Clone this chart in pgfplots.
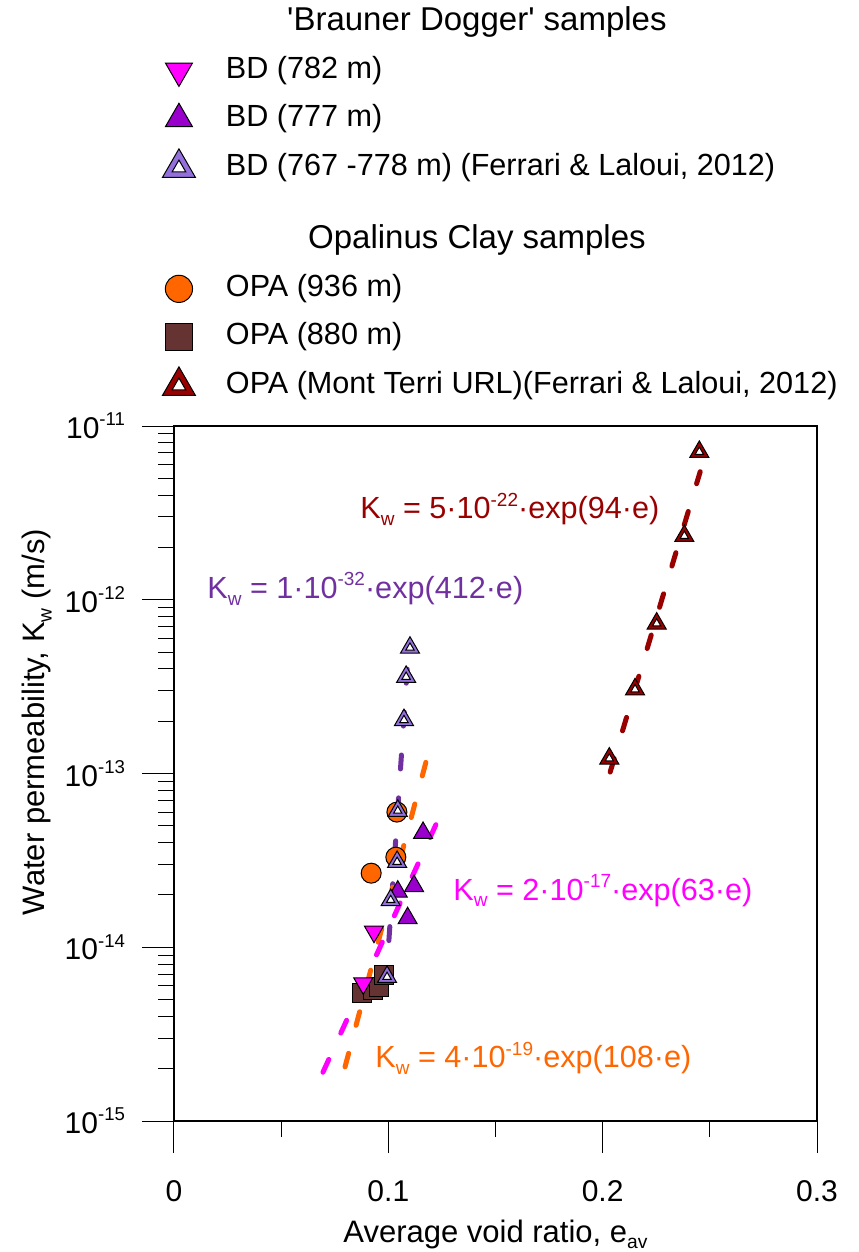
\documentclass[border=0pt]{standalone}
\usepackage{fontspec}
\setmainfont{Liberation Sans}
\usepackage{pgfplots}
\pgfplotsset{compat=1.18}
\definecolor{bdmag}{HTML}{FF00FF}
\definecolor{bdvio}{HTML}{9900CC}
\definecolor{bdlav}{HTML}{9370DB}
\definecolor{opaor}{HTML}{FF6600}
\definecolor{opabr}{HTML}{663333}
\definecolor{opared}{HTML}{990000}
\definecolor{fitpur}{HTML}{7030A0}
\makeatletter
\newcommand\sups[1]{\raisebox{0.42em}{\fontsize{\the\dimexpr 0.62\dimexpr\f@size pt\relax\relax}{1pt}\selectfont #1}}
\newcommand\subs[1]{\raisebox{-0.22em}{\fontsize{\the\dimexpr 0.62\dimexpr\f@size pt\relax\relax}{1pt}\selectfont #1}}
\makeatother
\pgfplotsset{
  fitline/.style={line width=2.5bp, dash pattern=on 7bp off 14.5bp, line cap=round, no marks},
}
\begin{document}
\begin{tikzpicture}
\useasboundingbox (-87bp,-65.5bp) rectangle (342.5bp,560.5bp);
\begin{axis}[
  scale only axis, width=321.5bp, height=347.5bp,
  xmin=0, xmax=0.3, ymode=log, ymin=1e-15, ymax=1e-11,
  xtick={0,0.1,0.2,0.3}, xticklabels={0,0.1,0.2,0.3},
  minor xtick={0.05,0.15,0.25},
  ytick={1e-15,1e-14,1e-13,1e-12,1e-11},
  yticklabels={10\sups{-15},10\sups{-14},10\sups{-13},10\sups{-12},10\sups{-11}},
  xtick pos=bottom, ytick pos=left, tick align=outside,
  major tick length=16bp, minor tick length=8bp,
  x tick style={black, line width=0.5bp}, y tick style={black, line width=0.5bp},
  x tick label style={font=\fontsize{15bp}{18bp}\selectfont, yshift=-10bp},
  y tick label style={font=\fontsize{15bp}{18bp}\selectfont, xshift=-5bp},
  axis line style={line width=0.8bp},
  xlabel={Average void ratio, e\subs{av}},
  ylabel={Water permeability, K\subs{w} (m/s)},
  every axis x label/.style={at={(axis description cs:0.5,-0.163)}, anchor=center, font=\fontsize{15.5bp}{19bp}\selectfont},
  every axis y label/.style={at={(axis description cs:-0.213,0.574)}, rotate=90, anchor=center, font=\fontsize{15.5bp}{19bp}\selectfont},
  legend style={draw=none, fill=none, at={(axis description cs:-0.0203,1.606)}, anchor=north west,
    inner sep=0pt, outer sep=0pt, row sep=6bp, column sep=14.5bp,
    font=\fontsize{15.3bp}{18bp}\selectfont,
    nodes={inner sep=0pt, text height=11bp, text depth=3bp}},
  legend cell align=left,
  clip=false,
]
% legend images
\addlegendimage{legend image code/.code={\path[draw=none,fill=none] (-9bp,-9bp) rectangle (9bp,9bp);}}
\addlegendentry{\hspace*{125.5bp}\makebox[0pt][c]{\fontsize{16.5bp}{18bp}\selectfont\textquotesingle Brauner Dogger\textquotesingle{} samples}}
\addlegendimage{legend image code/.code={\path[draw=none,fill=none] (-9bp,-9bp) rectangle (9bp,9bp);
  \draw[black, line width=0.5bp, fill=bdmag, mark=triangle*, mark size=7.8bp, mark options={rotate=180}] plot coordinates {(0bp,0bp)};}}
\addlegendentry{BD (782 m)}
\addlegendimage{legend image code/.code={\path[draw=none,fill=none] (-9bp,-9bp) rectangle (9bp,9bp);
  \draw[black, line width=0.5bp, fill=bdvio, mark=triangle*, mark size=7.8bp] plot coordinates {(0bp,0bp)};}}
\addlegendentry{BD (777 m)}
\addlegendimage{legend image code/.code={\path[draw=none,fill=none] (-9bp,-9bp) rectangle (9bp,9bp);
  \draw[black, line width=0.5bp, fill=bdlav, mark=triangle*, mark size=9.5bp] plot coordinates {(0bp,0bp)};
  \draw[black, line width=0.5bp, fill=white, mark=triangle*, mark size=3.9bp] plot coordinates {(0bp,0bp)};}}
\addlegendentry{BD (767 -778 m) (Ferrari \& Laloui, 2012)}
\addlegendimage{legend image code/.code={\path[draw=none,fill=none] (-9bp,-9bp) rectangle (9bp,21.5bp);}}
\addlegendentry{\hspace*{125.5bp}\makebox[0pt][c]{\fontsize{16.5bp}{18bp}\selectfont Opalinus Clay samples}}
\addlegendimage{legend image code/.code={\path[draw=none,fill=none] (-9bp,-9bp) rectangle (9bp,9bp);
  \draw[black, line width=0.5bp, fill=opaor, mark=*, mark size=6.8bp] plot coordinates {(0bp,0bp)};}}
\addlegendentry{OPA (936 m)}
\addlegendimage{legend image code/.code={\path[draw=none,fill=none] (-9bp,-9bp) rectangle (9bp,9bp);
  \draw[black, line width=0.5bp, fill=opabr, mark=square*, mark size=6.8bp] plot coordinates {(0bp,0bp)};}}
\addlegendentry{OPA (880 m)}
\addlegendimage{legend image code/.code={\path[draw=none,fill=none] (-9bp,-9bp) rectangle (9bp,9bp);
  \draw[black, line width=0.5bp, fill=opared, mark=triangle*, mark size=9.5bp] plot coordinates {(0bp,0bp)};
  \draw[black, line width=0.5bp, fill=white, mark=triangle*, mark size=3.9bp] plot coordinates {(0bp,0bp)};}}
\addlegendentry{OPA (Mont Terri URL)(Ferrari \& Laloui, 2012)}

% data
\addplot[only marks, mark=square*, mark size=4.75bp, mark options={draw=black, line width=0.5bp, fill=opabr}, forget plot]
  coordinates {(0.0876,5.43e-15) (0.0929,5.68e-15) (0.0955,5.9e-15) (0.0980,6.93e-15)};
\addplot[only marks, mark=*, mark size=5bp, mark options={draw=black, line width=0.5bp, fill=opaor}, forget plot]
  coordinates {(0.1040,6.0e-14) (0.1035,3.3e-14) (0.0920,2.67e-14)};
\addplot[only marks, mark=triangle*, mark size=5.5bp, mark options={rotate=180, draw=black, line width=0.5bp, fill=bdmag}, forget plot]
  coordinates {(0.0933,1.23e-14) (0.0883,6.2e-15)};
\addplot[only marks, mark=triangle*, mark size=5.5bp, mark options={draw=black, line width=0.5bp, fill=bdvio}, forget plot]
  coordinates {(0.1162,4.55e-14) (0.1120,2.25e-14) (0.1044,2.09e-14) (0.1090,1.47e-14)};
\addplot[only marks, mark=triangle*, mark size=5.5bp, mark options={draw=black, line width=0.5bp, fill=bdlav}, forget plot]
  coordinates {(0.1101,5.3e-13) (0.1083,3.6e-13) (0.1073,2.03e-13) (0.1044,6.1e-14) (0.1041,3.1e-14) (0.1011,1.87e-14) (0.0994,6.75e-15)};
\addplot[only marks, mark=triangle*, mark size=2.4bp, mark options={draw=black, line width=0.5bp, fill=white}, forget plot]
  coordinates {(0.1101,5.3e-13) (0.1083,3.6e-13) (0.1073,2.03e-13) (0.1044,6.1e-14) (0.1041,3.1e-14) (0.1011,1.87e-14) (0.0994,6.75e-15)};
\addplot[only marks, mark=triangle*, mark size=5.5bp, mark options={draw=black, line width=0.5bp, fill=opared}, forget plot]
  coordinates {(0.2451,7.1e-12) (0.2381,2.33e-12) (0.2252,7.3e-13) (0.2151,3.05e-13) (0.2031,1.22e-13)};
\addplot[only marks, mark=triangle*, mark size=2.4bp, mark options={draw=black, line width=0.5bp, fill=white}, forget plot]
  coordinates {(0.2451,7.1e-12) (0.2381,2.33e-12) (0.2252,7.3e-13) (0.2151,3.05e-13) (0.2031,1.22e-13)};

% fit lines
\addplot[fitline, color=opared, forget plot] coordinates {(0.2035,1.02e-13) (0.2455,5.46e-12)};
\addplot[fitline, color=fitpur, forget plot] coordinates {(0.0989,6.19e-15) (0.1089,4.11e-13)};
\addplot[fitline, color=opaor, forget plot] coordinates {(0.0798,2.05e-15) (0.1176,1.17e-13)};
\addplot[fitline, color=bdmag, forget plot] coordinates {(0.0695,1.91e-15) (0.1226,5.21e-14)};

% equations
\node[anchor=base west, text=opared, font=\fontsize{15.3bp}{19bp}\selectfont, inner sep=0pt] at (axis cs:0.0868,2.92e-12)
  {K\subs{w} = 5·10\sups{-22}·exp(94·e)};
\node[anchor=base west, text=fitpur, font=\fontsize{15.3bp}{19bp}\selectfont, inner sep=0pt] at (axis cs:0.0154,1.02e-12)
  {K\subs{w} = 1·10\sups{-32}·exp(412·e)};
\node[anchor=base west, text=bdmag, font=\fontsize{15.3bp}{19bp}\selectfont, inner sep=0pt] at (axis cs:0.1302,1.87e-14)
  {K\subs{w} = 2·10\sups{-17}·exp(63·e)};
\node[anchor=base west, text=opaor, font=\fontsize{15.3bp}{19bp}\selectfont, inner sep=0pt] at (axis cs:0.0938,2.02e-15)
  {K\subs{w} = 4·10\sups{-19}·exp(108·e)};
\end{axis}
\end{tikzpicture}
\end{document}
